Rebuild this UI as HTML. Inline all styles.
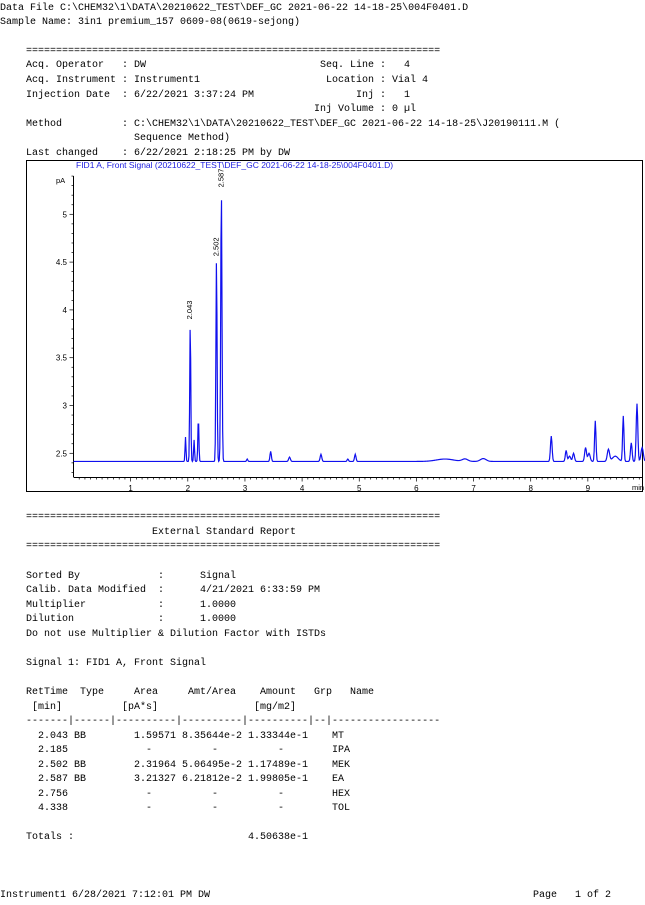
<!DOCTYPE html>
<html><head><meta charset="utf-8">
<style>
body{margin:0;background:#fff;width:645px;height:903px;position:relative;overflow:hidden;font-family:"Liberation Mono",monospace;font-size:10px;color:#000}
.l{position:absolute;white-space:pre;line-height:14px;height:14px}
.t{position:absolute;left:0;top:2px;width:645px;height:903px}
</style></head><body>
<div class="t">
<div class="l" style="left:0;top:0px">Data File C:\CHEM32\1\DATA\20210622_TEST\DEF_GC 2021-06-22 14-18-25\004F0401.D</div>
<div class="l" style="left:0;top:14px">Sample Name: 3in1 premium_157 0609-08(0619-sejong)</div>
<div class="l" style="left:26px;top:43px">=====================================================================</div>
<div class="l" style="left:26px;top:57px">Acq. Operator   : DW</div>
<div class="l" style="left:26px;top:72px">Acq. Instrument : Instrument1</div>
<div class="l" style="left:26px;top:87px">Injection Date  : 6/22/2021 3:37:24 PM</div>
<div class="l" style="left:314px;top:57px"> Seq. Line :   4</div>
<div class="l" style="left:314px;top:72px">  Location : Vial 4</div>
<div class="l" style="left:314px;top:87px">       Inj :   1</div>
<div class="l" style="left:314px;top:101px">Inj Volume : 0 µl</div>
<div class="l" style="left:26px;top:116px">Method          : C:\CHEM32\1\DATA\20210622_TEST\DEF_GC 2021-06-22 14-18-25\J20190111.M (</div>
<div class="l" style="left:26px;top:130px">                  Sequence Method)</div>
<div class="l" style="left:26px;top:145px">Last changed    : 6/22/2021 2:18:25 PM by DW</div>

<div class="l" style="left:26px;top:509px">=====================================================================</div>
<div class="l" style="left:26px;top:524px">                     External Standard Report</div>
<div class="l" style="left:26px;top:538px">=====================================================================</div>
<div class="l" style="left:26px;top:568px">Sorted By             :      Signal</div>
<div class="l" style="left:26px;top:582px">Calib. Data Modified  :      4/21/2021 6:33:59 PM</div>
<div class="l" style="left:26px;top:597px">Multiplier            :      1.0000</div>
<div class="l" style="left:26px;top:611px">Dilution              :      1.0000</div>
<div class="l" style="left:26px;top:626px">Do not use Multiplier &amp; Dilution Factor with ISTDs</div>
<div class="l" style="left:26px;top:655px">Signal 1: FID1 A, Front Signal</div>
<div class="l" style="left:26px;top:684px">RetTime  Type     Area     Amt/Area    Amount   Grp   Name</div>
<div class="l" style="left:26px;top:699px"> [min]          [pA*s]                [mg/m2]</div>
<div class="l" style="left:26px;top:713px">-------|------|----------|----------|----------|--|------------------</div>
<div class="l" style="left:26px;top:728px">  2.043 BB        1.59571 8.35644e-2 1.33344e-1    MT</div>
<div class="l" style="left:26px;top:742px">  2.185             -          -          -        IPA</div>
<div class="l" style="left:26px;top:757px">  2.502 BB        2.31964 5.06495e-2 1.17489e-1    MEK</div>
<div class="l" style="left:26px;top:771px">  2.587 BB        3.21327 6.21812e-2 1.99805e-1    EA</div>
<div class="l" style="left:26px;top:786px">  2.756             -          -          -        HEX</div>
<div class="l" style="left:26px;top:800px">  4.338             -          -          -        TOL</div>
<div class="l" style="left:26px;top:829px">Totals :                             4.50638e-1</div>
<div class="l" style="left:0;top:887px">Instrument1 6/28/2021 7:12:01 PM DW</div>
<div class="l" style="left:533px;top:887px">Page   1 of 2</div>
</div>

<svg id="chart" style="position:absolute;left:0;top:0" width="645" height="500">
<rect x="26.5" y="160.5" width="616" height="331" fill="none" stroke="#000" stroke-width="1"/>
<text x="76" y="168" fill="#2020e0" font-family="Liberation Sans" font-size="8.5">FID1 A, Front Signal (20210622_TEST\DEF_GC 2021-06-22 14-18-25\004F0401.D)</text>
<text x="56" y="183" font-family="Liberation Sans" font-size="7.5">pA</text>
<text x="632" y="490" font-family="Liberation Sans" font-size="7.5">min</text>
<g id="axes"></g><g id="trace"></g>
</svg>

<script>
const xTicks=[1,2,3,4,5,6,7,8,9];
const yTicks=[2.5,3,3.5,4,4.5,5];
const peakTimes=[1.96,2.043,2.11,2.185,2.502,2.587,3.04,3.45,3.78,4.33,4.80,4.93,6.5,6.85,7.17,8.36,8.62,8.68,8.75,8.96,9.02,9.13,9.36,9.48,9.62,9.76,9.86,9.95];
const peakHeights=[2.67,3.87,2.64,2.87,4.53,5.25,2.44,2.52,2.46,2.49,2.44,2.49,2.44,2.44,2.445,2.68,2.53,2.47,2.5,2.56,2.5,2.84,2.54,2.47,2.89,2.61,3.02,2.56];
const peakWidths=[0.008,0.009,0.008,0.009,0.01,0.011,0.01,0.012,0.015,0.014,0.012,0.013,0.15,0.05,0.05,0.014,0.014,0.02,0.016,0.016,0.02,0.012,0.02,0.05,0.012,0.014,0.014,0.02];
const labeled=["2.043","2.502","2.587"];
const baseline=2.415;
const NS='http://www.w3.org/2000/svg';
const X0=73.5,XS=57.15,Y0=453.3,YS=95.6;
function xs(t){return X0+XS*t;}
function ys(v){return Y0-(v-2.5)*YS;}
const ax=document.getElementById('axes');
function mk(tag,attrs,parent){const e=document.createElementNS(NS,tag);for(const k in attrs)e.setAttribute(k,attrs[k]);parent.appendChild(e);return e;}
let e=mk('line',{x1:73.5,y1:176,x2:73.5,y2:477,stroke:'#000'},ax);


e=mk('line',{x1:73.5,y1:477.5,x2:643,y2:477.5,stroke:'#000'},ax);


for(let i=1;i<100;i++){const t=i/10;const x=xs(t);const maj=i%10===0;
 mk('line',{x1:x,y1:477.5,x2:x,y2:477.5+(maj?4:2),stroke:'#000','stroke-width':0.7},ax);}
xTicks.forEach(t=>{const tx=mk('text',{x:xs(t),y:491,'text-anchor':'middle','font-family':'Liberation Sans','font-size':8},ax);tx.textContent=t;
 
 });
for(let v=2.2;v<=5.5;v+=0.1){const y=ys(v);if(y<176||y>477)continue;const maj=Math.abs(v*2-Math.round(v*2))<1e-6;
 mk('line',{x1:73.5,y1:y,x2:73.5-(maj?4:2),y2:y,stroke:'#000','stroke-width':0.7},ax);}
yTicks.forEach(v=>{const tx=mk('text',{x:67,y:ys(v)+3,'text-anchor':'end','font-family':'Liberation Sans','font-size':8},ax);tx.textContent=v;
 
 });
let d='';
for(let i=0;i<=1000;i++){const t=i/100;let v=baseline;
 for(let k=0;k<peakTimes.length;k++){const z=(t-peakTimes[k])/peakWidths[k];v+=(peakHeights[k]-baseline)*Math.exp(-0.5*z*z);}
 d+=(i?'L':'M')+xs(t).toFixed(2)+' '+ys(v).toFixed(2);}
const tr=document.getElementById('trace');
const p=mk('path',{d:d,fill:'none',stroke:'#1010ee','stroke-width':1.2},tr);


peakTimes.forEach((t,k)=>{const lab=t.toFixed(3);if(labeled.indexOf(lab)<0)return;
 const x=xs(t)+2,y=ys(peakHeights[k])-3;
 const tx=mk('text',{x:x,y:y,transform:'rotate(-90 '+x+' '+y+')','font-family':'Liberation Sans','font-size':7.5},tr);tx.textContent=lab;
 
 });
</script>
</body></html>
